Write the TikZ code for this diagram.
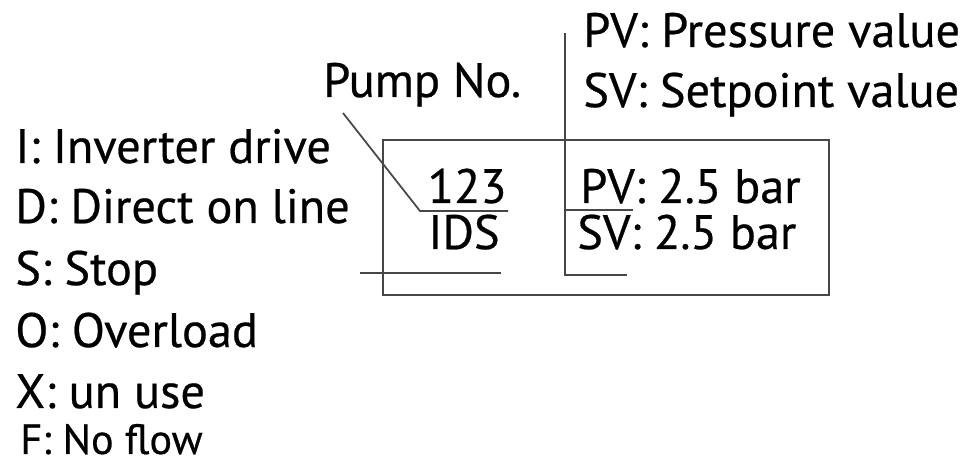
\documentclass[tikz,border=0pt]{standalone}
\usepackage{fontspec}
\setmainfont{PT Sans}[FakeBold=0.5]
\usepackage{tikz}
\usetikzlibrary{positioning}
\tikzstyle{legitem} = [anchor=base west, inner sep=0pt, font=\fontsize{27.5}{32}\selectfont]
\tikzstyle{readout} = [anchor=base west, inner sep=0pt, font=\fontsize{27.5}{32}\selectfont]
\tikzstyle{panel} = [rectangle, minimum width=8.92cm, minimum height=3.1cm, inner sep=0pt, draw=black!72, line width=1pt]
\tikzstyle{leader} = [draw=black!72, line width=1pt]

\begin{document}
\begin{tikzpicture}[x=0.02cm, y=-0.02cm]
      \useasboundingbox (0,0) rectangle (968,462);

      % display box
      \node (panel)  [panel] at (606,217.5) {};

      % left legend
      \node (legI)   [legitem] at (15,163)  {I: Inverter drive};
      \node (legD)   [legitem] at (15,223)  {D: Direct on line};
      \node (legS)   [legitem] at (15,285)  {S: Stop};
      \node (legO)   [legitem] at (15,347)  {O: Overload};
      \node (legX)   [legitem] at (15,408)  {X: un use};
      \node (legF)   [legitem, font=\fontsize{24}{28}\selectfont] at (20,454) {F: No flow};

      % top labels
      \node (pump)   [legitem] at (323,97)  {Pump No.};
      \node (pvkey)  [legitem] at (583,47)  {PV: Pressure value};
      \node (svkey)  [legitem] at (583,107) {SV: Setpoint value};

      % readouts in the box
      \node (num)    [readout, anchor=base east] at (507,203) {123};
      \node (mode)   [readout, anchor=base east] at (500,249) {IDS};
      \node (pv)     [readout] at (580,203) {PV: 2.5 bar};
      \node (sv)     [readout] at (577,249) {SV: 2.5 bar};

      % leader points
      \coordinate (pumpTip) at (343,113);
      \coordinate (numL)    at (420,211);
      \coordinate (numR)    at (508,211);
      \coordinate (modeL)   at (360,273);
      \coordinate (modeR)   at (501,273);
      \coordinate (keyTop)  at (565,33);
      \coordinate (pvL)     at (565,210);
      \coordinate (pvR)     at (633,210);
      \coordinate (svL)     at (565,275);
      \coordinate (svR)     at (627,275);

      \draw [leader] (pumpTip) -- (numL) -- (numR);
      \draw [leader] (modeL) -- (modeR);
      \draw [leader] (keyTop) -- (svL) -- (svR);
      \draw [leader] (pvL) -- (pvR);
    \end{tikzpicture}
\end{document}
